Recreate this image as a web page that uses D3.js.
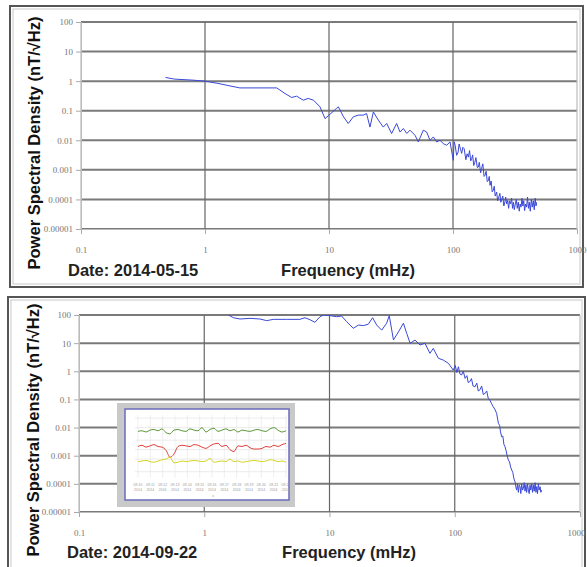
<!DOCTYPE html>
<html>
<head>
<meta charset="utf-8">
<script src="https://cdn.jsdelivr.net/npm/d3@7"></script>
<style>
  body { margin: 0; background: #fff; }
  svg { display: block; }
</style>
</head>
<body>
<div id="chart"></div>
<script>
// tick labels
var yTicks = [100, 10, 1, 0.1, 0.01, 0.001, 0.0001, 0.00001];
var yTickLabels = ["100", "10", "1", "0.1", "0.01", "0.001", "0.0001", "0.00001"];
var xTicks = [0.1, 1, 10, 100, 1000];
var xTickLabels = ["0.1", "1", "10", "100", "1000"];

// 2014-05-15 spectrum
var topFreq = [0.48, 0.57, 0.8, 1.0, 1.27, 1.59, 1.91, 3.79, 4.42, 5.0, 5.48, 6.2, 6.8, 7.5, 8.46, 9.3, 10, 11.5,
  11.9, 13.1, 14.3, 15.7, 17.2, 18.9, 20.1, 21.4, 22.8, 25, 27.4, 29.2, 32, 35.1, 37.4, 39.8, 42.4, 45, 49.4, 52.5,
  57.6, 61.3, 65.3, 69.4, 73.8, 78.5, 83.6, 88.9, 94.6,
  100.6, 102, 104, 107, 110, 112, 115, 117.5, 120, 123, 127, 130, 133, 136, 139, 141.5, 144, 147, 150, 153, 157,
  160, 163, 167, 170, 174, 178, 181, 185, 189, 193, 196, 199, 203, 207, 211, 215, 219, 225, 229, 234, 239, 243,
  248, 252, 257, 262, 266, 271, 276, 281, 286, 292, 297, 302, 307, 312, 318, 324, 330, 336, 342, 348, 354, 360,
  366, 372, 378, 385, 392, 399, 406, 413, 420, 428, 436, 444, 452, 460, 467, 473];
var topPsd = [1.33, 1.17, 1.08, 1.0, 0.84, 0.69, 0.59, 0.59, 0.38, 0.28, 0.31, 0.227, 0.26, 0.227, 0.135, 0.054, 0.071, 0.12,
  0.135, 0.062, 0.037, 0.062, 0.071, 0.071, 0.08, 0.028, 0.091, 0.048, 0.028, 0.037, 0.0169, 0.037, 0.019, 0.025, 0.017, 0.022, 0.0148, 0.0088,
  0.022, 0.019, 0.01, 0.013, 0.0088, 0.01, 0.0077, 0.0068, 0.0088,
  0.0021, 0.009, 0.0068, 0.0031, 0.004, 0.0075, 0.005, 0.0036, 0.0058, 0.0052, 0.0022, 0.0035, 0.0027, 0.0045, 0.002, 0.0024, 0.0032, 0.0014, 0.0018, 0.0026, 0.0012,
  0.00124, 0.0018, 0.0008, 0.0011, 0.0016, 0.0006, 0.00065, 0.0009, 0.0004, 0.00044, 0.0006, 0.0003, 0.00042, 0.00018, 0.0002, 0.00028, 0.00013, 0.000178, 0.00009, 0.00012, 0.00016, 0.00008,
  0.000106, 0.00013, 0.00006, 0.0000813, 0.00012, 0.00007, 0.0000925, 0.00005, 0.00009, 0.0000714, 0.00011, 0.00005, 0.00008, 0.000045, 0.00007, 0.0001, 0.00005, 0.0000813, 0.00004, 0.00007, 0.000055, 0.00011,
  0.00006, 0.00009, 0.000042, 0.00007, 0.000055, 0.00012, 0.00005, 0.00008, 0.00004, 0.0001, 0.000055, 0.00009, 0.000045, 0.00011, 0.00006, 0.00008];

// 2014-09-22 spectrum
var botFreq = [1.56, 1.71, 1.93, 2.32, 2.79, 3.15, 3.56, 4.55, 5.8, 6.37, 6.98, 7.65, 8.4, 9.0, 10.1, 11.4, 12.5, 13.7,
  15.5, 17, 18.6, 20.4, 22.1, 23.8, 26.1, 28.6, 30, 32.4, 35.5, 38.9, 41.4, 44, 48.2, 52.8, 57.8, 63.4, 67.4, 74, 81,
  89, 97.3, 101, 104, 107, 110, 113.5, 117, 121, 125, 128, 132, 136, 140, 145, 150, 154, 159, 164, 169, 175, 180, 185,
  191, 197, 203, 209, 216, 220, 223, 228, 232, 237, 242, 247, 252, 257, 262, 268, 274, 279, 285, 291, 297, 303, 307,
  312, 317, 322, 327, 332, 337, 342, 348, 353, 359, 364, 370, 375, 381, 387, 393, 399, 405, 412, 418, 425, 431, 438,
  445, 451, 458, 465, 472, 480, 487, 495];
var botPsd = [100, 80, 72, 76, 72, 63, 70, 70, 70, 80, 68, 55, 87, 100, 95, 87, 92, 58,
  33.6, 44, 42, 47, 80, 44, 29, 51, 95, 13, 25, 51, 22, 9.9, 12.9, 8.6, 9.9, 4.35, 6.5, 2.9, 2.5,
  1.92, 1.1, 1.6, 0.9, 1.45, 0.8, 0.74, 1.0, 0.56, 0.7, 0.4, 0.43, 0.55, 0.3, 0.28, 0.38, 0.2, 0.22, 0.3, 0.15, 0.165, 0.2, 0.11,
  0.094, 0.07, 0.055, 0.045, 0.032, 0.02, 0.0141, 0.012, 0.007, 0.0047, 0.005, 0.0025, 0.0021, 0.0015, 0.001, 0.0007, 0.0006, 0.0004, 0.00031, 0.00025, 0.00015, 0.000119, 0.00008,
  0.00006, 0.0001, 0.00005, 0.00009, 0.000079, 0.000045, 0.0001, 0.00006, 0.00007, 0.00011, 0.000055, 0.00009, 0.00005, 0.0001, 0.00006, 0.000045, 0.00009, 0.00006, 0.0001, 0.00005, 0.00009, 0.000055, 0.00011,
  0.00005, 0.00008, 0.000045, 0.0001, 0.00006, 0.000079, 0.00005, 0.00006];

// inset (magnetometer time series)
var insetDays = ["09-10", "09-11", "09-12", "09-13", "09-14", "09-15", "09-16", "09-17", "09-18", "09-19", "09-20", "09-21", "09-22"];
var insetGreen = [74, 75, 73, 76, 77, 75, 78, 72, 70, 76, 77, 75, 74, 78, 76, 75, 80, 73, 77, 79, 74, 76, 78, 75, 77, 73, 76, 75, 74, 76, 77, 75, 74, 78, 80, 76, 73, 75];
var insetRed = [50, 52, 49, 51, 53, 50, 49, 44, 33, 38, 50, 52, 51, 50, 53, 52, 49, 47, 51, 54, 55, 50, 52, 45, 42, 51, 50, 52, 48, 46, 46, 47, 50, 49, 52, 50, 53, 55];
var insetYellow = [26, 27, 28, 26, 25, 27, 29, 30, 33, 24, 25, 27, 26, 27, 28, 27, 26, 27, 31, 25, 26, 27, 26, 30, 26, 27, 25, 26, 27, 28, 27, 26, 27, 29, 28, 26, 27, 25];

var svg = d3.select("#chart").append("svg")
  .attr("width", 587)
  .attr("height", 567);

function panel(p) {
  var g = svg.append("g");

  // frame
  g.append("rect").attr("x", p.box[0]).attr("y", p.box[1]).attr("width", p.box[2]).attr("height", p.box[3])
    .attr("fill", "#fff").attr("stroke", "#555").attr("stroke-width", 2);
  g.append("rect").attr("x", p.box[0] + 3).attr("y", p.box[1] + 3).attr("width", p.box[2] - 6).attr("height", p.box[3] - 6)
    .attr("fill", "none").attr("stroke", "#c8c8c8").attr("stroke-width", 1);

  var x = d3.scaleLog().domain([0.1, 1000]).range(p.xr);
  var y = d3.scaleLog().domain([0.00001, 100]).range(p.yr);

  // grid
  g.selectAll(".hg").data(yTicks).enter().append("line")
    .attr("x1", p.xr[0]).attr("x2", p.xr[1])
    .attr("y1", function(d) { return y(d); }).attr("y2", function(d) { return y(d); })
    .attr("stroke", "#7a7a7a").attr("stroke-width", 2);
  g.selectAll(".vg").data(xTicks).enter().append("line")
    .attr("x1", function(d) { return x(d); }).attr("x2", function(d) { return x(d); })
    .attr("y1", p.yr[1]).attr("y2", p.yr[0])
    .attr("stroke", function(d) { return (d == 0.1 || d == 1000) ? "#bbb" : "#666"; })
    .attr("stroke-width", 1.2);

  // axes
  var yAxis = d3.axisLeft(y).tickValues(yTicks).tickSize(5)
    .tickFormat(function(d, i) { return yTickLabels[i]; });
  var ya = g.append("g").attr("transform", "translate(" + p.xr[0] + ",0)").call(yAxis);
  var xAxis = d3.axisBottom(x).tickValues(xTicks).tickSize(5)
    .tickFormat(function(d, i) { return xTickLabels[i]; });
  var xa = g.append("g").attr("transform", "translate(0," + p.yr[0] + ")").call(xAxis);
  [ya, xa].forEach(function(a) {
    a.select(".domain").attr("stroke", "#bbb");
    a.selectAll(".tick line").attr("stroke", "#aaa");
    a.selectAll("text").attr("fill", "#777").attr("font-family", "Liberation Serif").attr("font-size", 9);
  });
  xa.selectAll("text").attr("dy", "1.8em")
    .attr("dx", function(d) { return d == 1000 ? p.lastDx : 0; });

  // clip
  var clipId = "clip" + p.id;
  svg.append("clipPath").attr("id", clipId).append("rect")
    .attr("x", p.xr[0]).attr("y", p.yr[1]).attr("width", p.xr[1] - p.xr[0]).attr("height", p.yr[0] - p.yr[1]);

  var line = d3.line()
    .x(function(d) { return x(d[0]); })
    .y(function(d) { return y(d[1]); });
  g.append("path")
    .datum(d3.zip(p.freq, p.psd))
    .attr("clip-path", "url(#" + clipId + ")")
    .attr("fill", "none")
    .attr("stroke", "#3a48d8")
    .attr("stroke-width", 1)
    .attr("stroke-linejoin", "round")
    .attr("d", line);

  // texts
  g.append("text")
    .attr("transform", "translate(" + p.titleX + "," + p.titleY + ") rotate(-90)")
    .attr("text-anchor", "middle")
    .attr("font-family", "Liberation Sans").attr("font-weight", "bold").attr("font-size", 16.5)
    .attr("fill", "#111")
    .text("Power Spectral Density (nT/\u221AHz)");
  g.append("text").attr("x", p.dateX).attr("y", p.labelY)
    .attr("font-family", "Liberation Sans").attr("font-weight", "bold").attr("font-size", 16.5)
    .attr("fill", "#222").text(p.date);
  g.append("text").attr("x", p.freqX).attr("y", p.labelY).attr("text-anchor", "middle")
    .attr("font-family", "Liberation Sans").attr("font-weight", "bold").attr("font-size", 16.5)
    .attr("fill", "#222").text("Frequency (mHz)");
  return g;
}

panel({ id: 1, box: [10, 6, 573, 281], xr: [81, 577], yr: [229, 22],
  freq: topFreq, psd: topPsd, date: "Date: 2014-05-15", lastDx: 0,
  titleX: 40, titleY: 143, dateX: 68, labelY: 276, freqX: 348 });

panel({ id: 2, box: [8, 297, 577, 280], xr: [79, 580], yr: [512, 315],
  freq: botFreq, psd: botPsd, date: "Date: 2014-09-22", lastDx: -4,
  titleX: 39, titleY: 430, dateX: 67, labelY: 558, freqX: 349 });

// inset
var ins = svg.append("g");
ins.append("rect").attr("x", 117).attr("y", 403).attr("width", 178).attr("height", 104).attr("fill", "#c9c9c9");
ins.append("rect").attr("x", 125).attr("y", 409).attr("width", 164).attr("height", 91)
  .attr("fill", "#fff").attr("stroke", "#6b6bbd").attr("stroke-width", 1.5);

var ix = d3.scaleLinear().domain([0, insetGreen.length - 1]).range([138, 286]);
var iy = d3.scaleLinear().domain([0, 100]).range([478, 415]);
var ixt = d3.scaleLinear().domain([0, insetDays.length - 1]).range([138, 286]);

ins.selectAll(".ih").data([10, 30, 45, 60, 80, 95]).enter().append("line")
  .attr("x1", 135).attr("x2", 287)
  .attr("y1", function(d) { return iy(d); }).attr("y2", function(d) { return iy(d); })
  .attr("stroke", "#ddd").attr("stroke-width", 0.6);
ins.selectAll(".iv").data(insetDays).enter().append("line")
  .attr("x1", function(d, i) { return ixt(i); }).attr("x2", function(d, i) { return ixt(i); })
  .attr("y1", iy(100)).attr("y2", iy(0))
  .attr("stroke", "#e6e6e6").attr("stroke-width", 0.6);

var iline = d3.line().curve(d3.curveMonotoneX)
  .x(function(d, i) { return ix(i); })
  .y(function(d) { return iy(d); });
[[insetGreen, "#5f9a3c"], [insetRed, "#e0463f"], [insetYellow, "#d6d62a"]].forEach(function(s) {
  ins.append("path").datum(s[0]).attr("fill", "none").attr("stroke", s[1]).attr("stroke-width", 1).attr("d", iline);
});

ins.selectAll(".il1").data(insetDays).enter().append("text")
  .attr("x", function(d, i) { return ixt(i); }).attr("y", 486)
  .attr("text-anchor", "middle").attr("font-family", "Liberation Sans").attr("font-size", 3.5).attr("fill", "#999")
  .text(function(d) { return d; });
ins.selectAll(".il2").data(insetDays).enter().append("text")
  .attr("x", function(d, i) { return ixt(i); }).attr("y", 490.5)
  .attr("text-anchor", "middle").attr("font-family", "Liberation Sans").attr("font-size", 3.5).attr("fill", "#999")
  .text("2014");
ins.append("text").attr("x", 213).attr("y", 497).attr("text-anchor", "middle")
  .attr("font-family", "Liberation Sans").attr("font-size", 3.5).attr("fill", "#999").text("x");
</script>
</body>
</html>
